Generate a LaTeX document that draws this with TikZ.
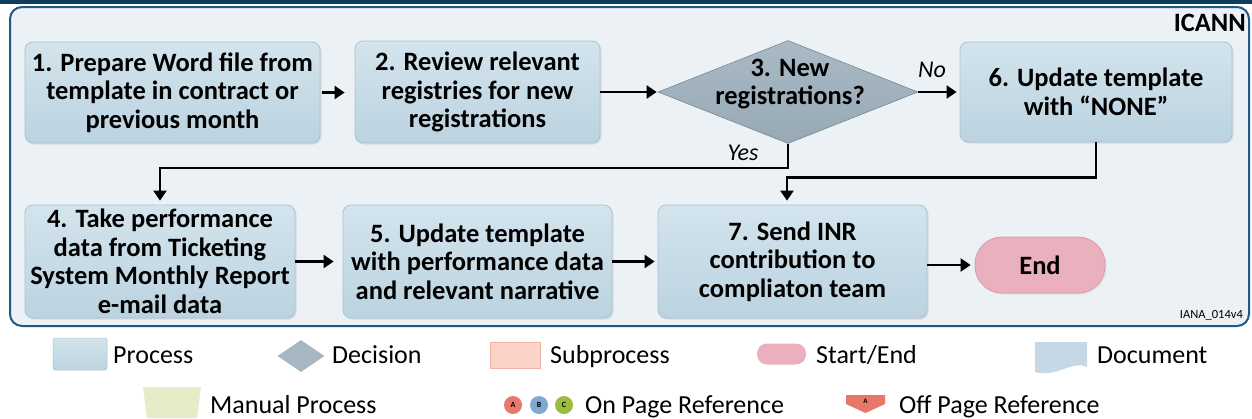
\documentclass[tikz,border=0pt]{standalone}
\usepackage{fontspec}
\setmainfont{Carlito}
\usetikzlibrary{arrows.meta,shapes.geometric,shadows,calc}
\definecolor{navy}{HTML}{0F3D5E}
\definecolor{framecol}{HTML}{1E5A85}
\definecolor{framefill}{HTML}{EBF1F5}
\definecolor{boxtop}{HTML}{D3E4ED}
\definecolor{boxbot}{HTML}{BBD3E0}
\definecolor{boxedge}{HTML}{A9C3D1}
\definecolor{dectop}{HTML}{A9BAC5}
\definecolor{decbot}{HTML}{97A9B5}
\definecolor{legdec}{HTML}{A6B7C2}
\definecolor{endfill}{HTML}{EAB0BE}
\definecolor{endedge}{HTML}{DC9AAA}
\definecolor{subfill}{HTML}{FBD3C9}
\definecolor{subedge}{HTML}{F1B2A4}
\definecolor{manfill}{HTML}{E6ECC6}
\definecolor{docfill}{HTML}{C6D8E6}
\definecolor{offfill}{HTML}{E8766A}
\definecolor{refa}{HTML}{E8786C}
\definecolor{refb}{HTML}{80A8D0}
\definecolor{refc}{HTML}{9CBC3E}
\newcommand{\boxfont}{\fontsize{26.5}{28.5}\selectfont\bfseries}
\newcommand{\legfont}{\fontsize{26}{28}\selectfont}
\begin{document}
\begin{tikzpicture}[x=1pt,y=-1pt,
  procbox/.style={draw=boxedge, line width=0.8pt, rounded corners=8pt,
    top color=boxtop, bottom color=boxbot,
    drop shadow={opacity=0.18, shadow xshift=1.5pt, shadow yshift=-1.5pt},
    align=center, font=\boxfont, inner sep=0pt},
  decbox/.style={diamond, draw=decbot!80!black, line width=0.6pt,
    top color=dectop, bottom color=decbot, inner sep=0pt,
    minimum width=260pt, minimum height=103pt},
  boxtext/.style={align=center, font=\boxfont, inner sep=0pt},
  endbox/.style={draw=endedge, line width=0.8pt, fill=endfill, rounded corners=27pt,
    font=\boxfont, inner sep=0pt, minimum width=130pt, minimum height=56pt,
    drop shadow={opacity=0.15, shadow xshift=1.5pt, shadow yshift=-1.5pt}},
  conn/.style={line width=2.3pt, -{Triangle[length=10pt,width=13pt]}},
  lbl/.style={font=\fontsize{24}{26}\selectfont\itshape, inner sep=0pt},
  legtext/.style={font=\legfont, anchor=base west, inner sep=0pt},
]
\useasboundingbox (0,0) rectangle (1252,418);
\fill[white] (0,0) rectangle (1252,418);
% top band and frame
\fill[navy] (0,0) rectangle (1252,4);
\draw[framecol, line width=2pt, fill=framefill, rounded corners=12pt] (10,7) rectangle (1249,326);
\node[anchor=east, font=\fontsize{26.5}{28}\selectfont\bfseries, inner sep=0pt] (icann) at (1246,23) {ICANN};
\node[anchor=east, font=\fontsize{12.5}{14}\selectfont, inner sep=0pt] (iana) at (1243,315) {IANA\_014v4};

% row 1
\node[procbox, minimum width=295pt, minimum height=101pt] (b1) at (172.5,92.5)
  {1. Prepare Word file from\\template in contract or\\previous month};
\node[procbox, minimum width=245pt, minimum height=102pt] (b2) at (477.5,92)
  {2. Review relevant\\registries for new\\registrations};
\node[decbox] (d3) at (788,92) {};
\node[boxtext] (d3t) at (790,84) {3. New\\registrations?};
\node[procbox, minimum width=272pt, minimum height=100pt] (b6) at (1096,92)
  {6. Update template\\with “NONE”};

% row 2
\node[procbox, minimum width=270pt, minimum height=113pt] (b4) at (160,261.5)
  {4. Take performance\\data from Ticketing\\System Monthly Report\\e-mail data};
\node[procbox, minimum width=269pt, minimum height=113pt] (b5) at (477.5,261.5)
  {5. Update template\\with performance data\\and relevant narrative};
\node[procbox, minimum width=269pt, minimum height=113pt] (b7) at (792.5,261.5)
  {7. Send INR\\contribution to\\compliaton team};
\node[endbox] (end) at (1040,265) {End};

% connectors
\draw[conn, shorten <=2pt, shorten >=10pt] (b1.east) -- (b1.east -| b2.west);
\draw[conn, shorten >=1pt] (b2.east |- d3.west) -- (d3.west);
\draw[conn, shorten >=3pt] (d3.east) -- (d3.east -| b6.west);
\node[lbl] (no) at (932,70) {No};
\draw[conn, shorten >=4pt] (d3.south) -- ++(0,24) -| (b4.north);
\node[lbl] (yes) at (743,153) {Yes};
\coordinate (b7in) at ($(b7.north)+(-5.5,0)$);
\draw[conn, shorten >=4pt] (b6.south) -- ++(0,35) -| (b7in);
\draw[conn, shorten >=9pt] (b4.east) -- (b4.east -| b5.west);
\draw[conn, shorten >=3pt] (b5.east) -- (b5.east -| b7.west);
\draw[conn, shorten >=4pt] (b7.east |- end.west) -- (end.west);

% legend row 1
\node[draw=boxedge, line width=0.5pt, top color=boxtop, bottom color=boxbot, rounded corners=2pt,
  minimum width=54pt, minimum height=32pt, inner sep=0pt] (lproc) at (80,354) {};
\node[legtext] (lproct) at (113,363.5) {Process};
\node[diamond, fill=legdec, inner sep=0pt,
  minimum width=47pt, minimum height=32pt] (ldec) at (301,356) {};
\node[legtext] (ldect) at (332,363.5) {Decision};
\node[draw=subedge, line width=1pt, fill=subfill, minimum width=50pt, minimum height=26pt,
  inner sep=0pt] (lsub) at (515,355) {};
\node[legtext] (lsubt) at (550,363.5) {Subprocess};
\node[fill=endfill, rounded corners=10pt, minimum width=49pt, minimum height=21pt,
  inner sep=0pt] (lse) at (781.5,354) {};
\node[legtext] (lset) at (816,363.5) {Start/End};
\fill[docfill] (1035,342) -- (1087,342) -- (1087,367)
  .. controls (1072,360) and (1056,378) .. (1035,372) -- cycle;
\node[legtext] (ldoct) at (1097,363.5) {Document};

% legend row 2
\fill[manfill] (143,387) -- (201,387) -- (197,418) -- (147,418) -- cycle;
\node[legtext] (lmant) at (210,413.5) {Manual Process};
\node[circle, fill=refa, minimum size=18pt, inner sep=0pt, font=\fontsize{8}{8}\selectfont\bfseries] (ra) at (513,405) {A};
\node[circle, fill=refb, minimum size=18pt, inner sep=0pt, font=\fontsize{8}{8}\selectfont\bfseries] (rb) at (539,405) {B};
\node[circle, fill=refc, minimum size=18pt, inner sep=0pt, font=\fontsize{8}{8}\selectfont\bfseries] (rc) at (564,405) {C};
\node[legtext] (lont) at (585,413.5) {On Page Reference};
\fill[offfill] (846,395) -- (885,395) -- (885,404) -- (865.5,413) -- (846,404) -- cycle;
\node[font=\fontsize{7}{7}\selectfont\bfseries, inner sep=0pt] (offa) at (865.5,401) {A};
\node[legtext] (lofft) at (899,413.5) {Off Page Reference};
\end{tikzpicture}
\end{document}
